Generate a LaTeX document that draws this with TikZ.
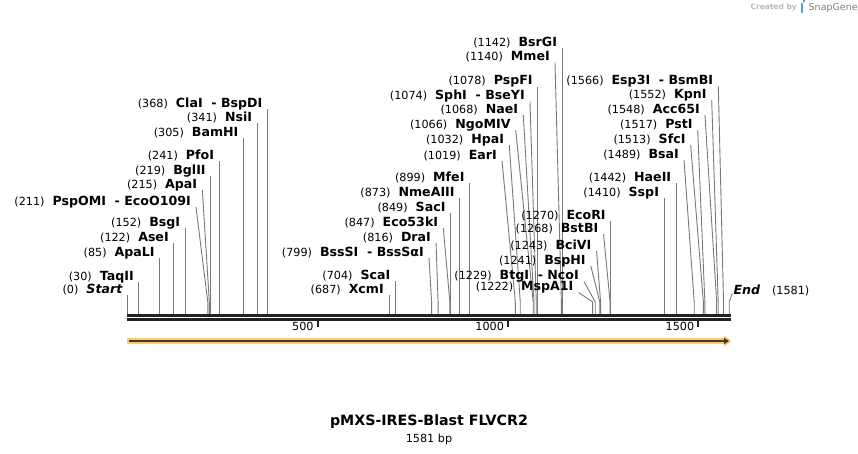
\documentclass[tikz,border=0pt]{standalone}
\usepackage{fontspec}
\setmainfont{DejaVu Sans}
\usetikzlibrary{arrows.meta, positioning}
\definecolor{SiteGray}{RGB}{120,120,120}
\definecolor{BarBlack}{RGB}{34,34,34}
\definecolor{FeatOrange}{RGB}{250,202,115}
\definecolor{FeatDark}{RGB}{70,56,40}
\definecolor{BrandBlue}{RGB}{74,163,223}
\newcommand{\numtext}{\fontsize{11.2}{12}\selectfont}
\newcommand{\enztext}{\fontsize{12.6}{13}\selectfont\bfseries}
\newcommand{\cutname}[2]{{\numtext(#1)}\hspace{8pt}{\enztext #2}}

\begin{document}
\begin{tikzpicture}[x=1pt, y=-1pt,
    cutline/.style={draw=SiteGray, line width=0.9pt},
    cutlabel/.style={anchor=base east, inner sep=0pt}]
  \useasboundingbox (0,0) rectangle (858,453);

  % sequence bar
  \coordinate (seqL) at (127,317.4);
  \coordinate (seqR) at (731,317.4);
  \draw[BarBlack, line width=2.7pt] ([yshift=2pt]seqL) -- ([yshift=2pt]seqR);
  \draw[BarBlack, line width=2.7pt] ([yshift=-2pt]seqL) -- ([yshift=-2pt]seqR);

  % ruler
  \foreach \t in {500,1000,1500} {
    \coordinate (tick\t) at ({127.5+0.3806*\t},320.5);
    \draw[BarBlack, line width=2pt] (tick\t) -- ++(0,6.5);
    \node[anchor=east, inner sep=0pt, font=\numtext] (ruler\t) at ([xshift=-4pt, yshift=-5.5pt]tick\t) {\t};
  }

  % cut sites
  \foreach \pos/\dx/\top/\enz [count=\i] in {
      30/0/282/TaqII, 85/0/258/ApaLI, 122/0/243/AseI, 152/0/228/BsgI,
      211/-11.8/207/PspOMI~~- EcoO109I, 215/-7/190/ApaI, 219/0/176/BglII,
      241/0/161/PfoI, 305/0/138/BamHI, 341/0/123/NsiI, 368/0/109/ClaI~~- BspDI,
      687/0/295/XcmI, 704/0/281/ScaI, 799/-2.6/258/BssSI~~- BssSαI,
      816/-2/243/DraI, 847/-6.6/228/Eco53kI, 849/0/213/SacI, 873/0/198/NmeAIII,
      899/0/183/MfeI, 1019/-13.3/161/EarI, 1032/-11/145/HpaI,
      1066/-17.5/130/NgoMIV, 1068/-10.7/115/NaeI, 1074/-6.3/101.5/SphI~~- BseYI,
      1078/0/86.5/PspFI, 1140/-6.4/62.5/MmeI, 1142/0/48/BsrGI,
      1222/-14/292.5/MspA1I, 1229/-11.3/281.5/BtgI~~- NcoI, 1241/-9/266/BspHI,
      1243/-4/251/BciVI, 1268/-6.6/234/BstBI, 1270/0/221/EcoRI,
      1410/0/198/SspI, 1442/0/183/HaeII, 1489/-10.2/160/BsaI,
      1513/-12.7/145/SfcI, 1517/-7.2/130/PstI, 1548/-11.7/115/Acc65I,
      1552/-6.5/100/KpnI, 1566/-5.2/86.5/Esp3I~~- BsmBI} {
    \coordinate (cut\i) at ({127.5+0.3806*\pos},314);
    \coordinate (bend\i) at ({127.5+0.3806*\pos},302);
    \coordinate (tip\i) at ({127.5+0.3806*\pos+\dx},\top);
    \draw[cutline] (cut\i) -- (bend\i) -- (tip\i);
    \node[cutlabel] (lab\i) at ([xshift=-5pt, yshift=2pt]tip\i) {\cutname{\pos}{\enz}};
  }

  % start and end
  \coordinate (cutStart) at (127.5,314);
  \coordinate (tipStart) at (127.5,295);
  \draw[cutline] (cutStart) -- (tipStart);
  \node[cutlabel] (labStart) at ([xshift=-5pt, yshift=2pt]tipStart) {{\numtext(0)}\hspace{8pt}{\enztext\itshape Start}};
  \coordinate (cutEnd) at (729.2,314);
  \coordinate (bendEnd) at (729.2,302);
  \coordinate (tipEnd) at (732.3,293.3);
  \draw[cutline] (cutEnd) -- (bendEnd) -- (tipEnd);
  \node[anchor=base west, inner sep=0pt] (labEnd) at ([xshift=1pt, yshift=-1pt]tipEnd) {{\enztext\itshape End}\hspace{12pt}{\numtext(1581)}};

  % feature arrow
  \fill[FeatOrange] (127,338) -- (724,338) -- (724,335.5) -- (731.5,341) -- (724,346.5) -- (724,344) -- (127,344) -- cycle;
  \coordinate (featL) at (129,341);
  \coordinate (featR) at (729,341);
  \draw[FeatDark, line width=2pt, -{Triangle[length=5pt, width=6pt]}] (featL) -- (featR);

  % title
  \node[font=\fontsize{14.2}{16}\selectfont\bfseries] (title) at (429,422) {pMXS-IRES-Blast FLVCR2};
  \node[font=\numtext, below=0pt of title, yshift=2pt] (size) {1581 bp};

  % credit
  \node[text=black!28, font=\fontsize{7.5}{8}\selectfont\bfseries, anchor=east, inner sep=0pt] (credit) at (797,7.5) {Created by};
  \fill[BrandBlue] (801,2.5) rectangle (803,13);
  \fill[BrandBlue] (803,2.5) arc (90:-90:2.3 and 2.6) -- cycle;
  \node[text=black!50, font=\fontsize{9.5}{11}\selectfont, anchor=west, inner sep=0pt] (brand) at (808.5,7.5) {SnapGene};
\end{tikzpicture}
\end{document}
